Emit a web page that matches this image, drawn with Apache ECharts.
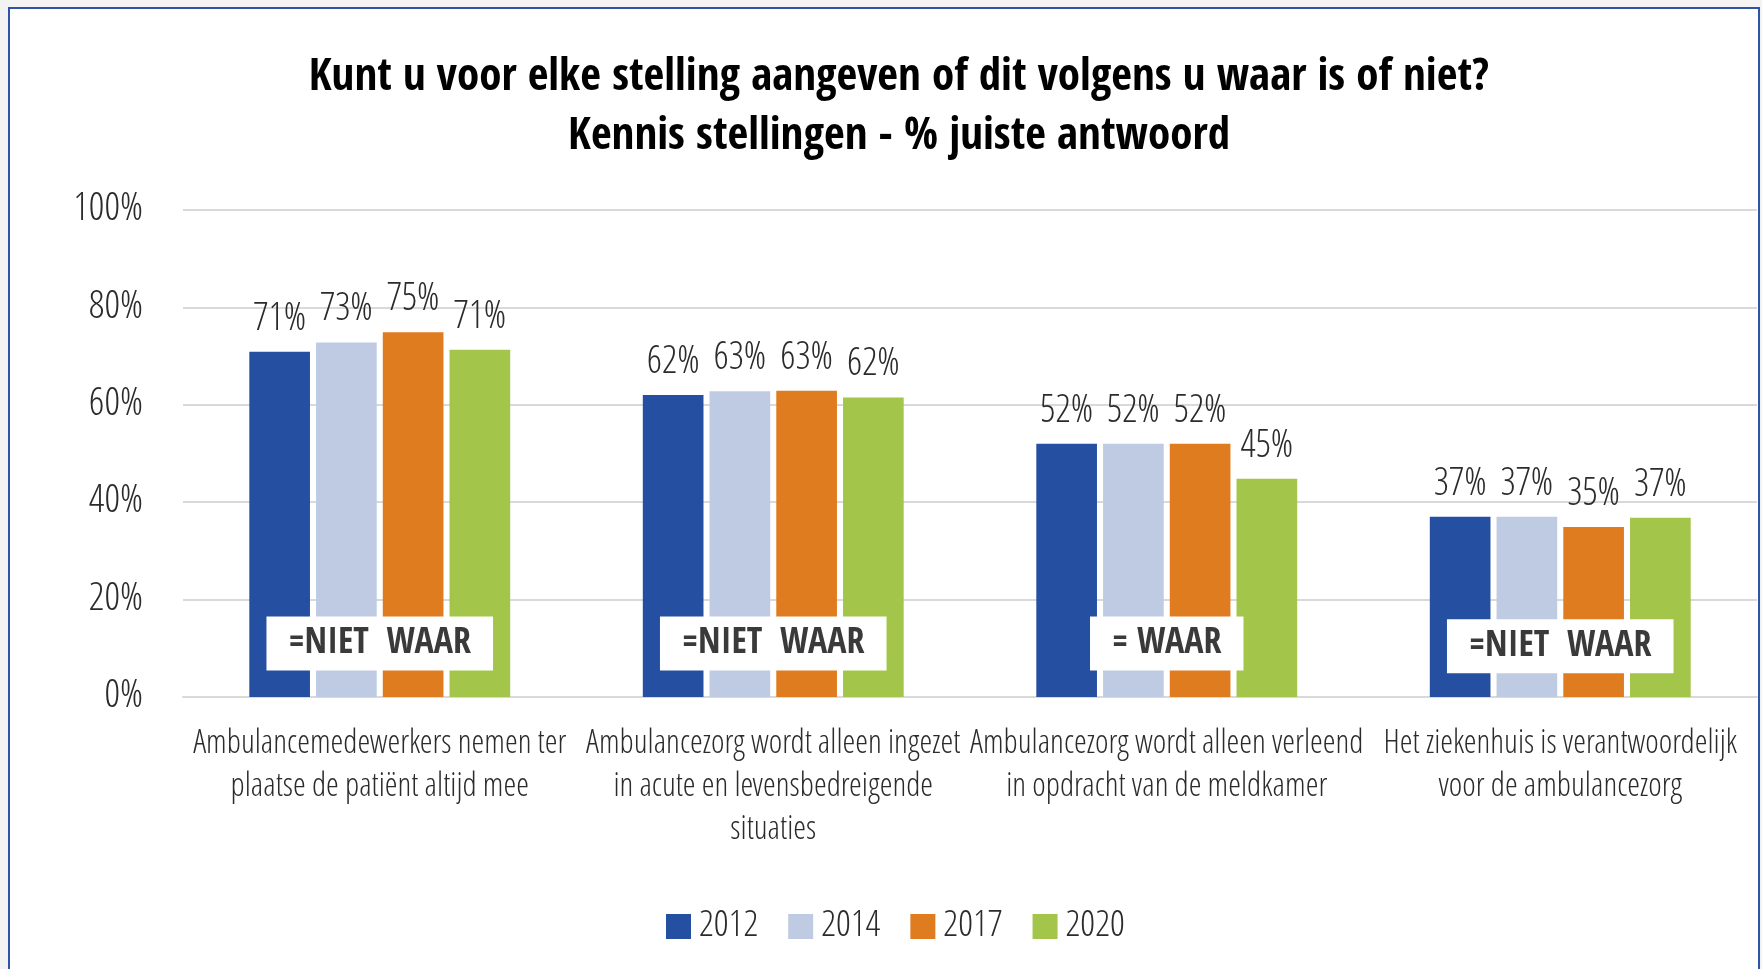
<!DOCTYPE html>
<html>
<head>
<meta charset="utf-8">
<script src="https://cdn.jsdelivr.net/npm/echarts@6/dist/echarts.min.js"></script>
<style>
  html, body { margin: 0; padding: 0; background: #f3f3f3; overflow: hidden; }
  #panel { position: absolute; left: 8px; top: 7px; width: 1748px; height: 1000px; background: #ffffff; border: 2px solid #2e54a6; }
  #chart { position: absolute; left: 0; top: 0; width: 1762px; height: 969px; }
</style>
</head>
<body>
<div id="panel"></div>
<div id="chart"></div>
<script>
// ---- data ----
const categories = [
  'Ambulancemedewerkers nemen ter\nplaatse de patiënt altijd mee',
  'Ambulancezorg wordt alleen ingezet\nin acute en levensbedreigende\nsituaties',
  'Ambulancezorg wordt alleen verleend\nin opdracht van de meldkamer',
  'Het ziekenhuis is verantwoordelijk\nvoor de ambulancezorg'
];
const seriesNames = ['2012', '2014', '2017', '2020'];
const values2012 = [70.9, 62.0, 52.0, 37.0];
const values2014 = [72.8, 62.8, 52.0, 37.0];
const values2017 = [74.9, 62.9, 52.0, 34.9];
const values2020 = [71.3, 61.5, 44.8, 36.8];
const annotationTexts = ['=NIET  WAAR', '=NIET  WAAR', '= WAAR', '=NIET  WAAR'];
const annotationLevel = [11, 11, 11, 10.4];
const yTicks = [0, 20, 40, 60, 80, 100];
const titleLines = ['Kunt u voor elke stelling aangeven of dit volgens u waar is of niet?', 'Kennis stellingen - % juiste antwoord'];

// ---- style ----
const colors = ['#254fa1', '#bfcbe3', '#df7c20', '#a2c54a'];
const LIGHT_FAMILY = '"Open Sans Condensed Light", "Open Sans", sans-serif';
const BOLD_FAMILY = '"Open Sans Condensed", "Open Sans", sans-serif';
const TXT = '#2b2b2b';

const chart = echarts.init(document.getElementById('chart'), null, { renderer: 'canvas' });
const allValues = [values2012, values2014, values2017, values2020];

const barSeries = seriesNames.map((name, i) => ({
  name: name,
  type: 'bar',
  data: allValues[i],
  barGap: '10%',
  barCategoryGap: '33.7%',
  itemStyle: { color: colors[i] },
  label: {
    show: true,
    position: 'top',
    distance: 13,
    formatter: p => Math.round(p.value) + '%',
    color: TXT,
    fontFamily: LIGHT_FAMILY,
    fontWeight: 300,
    fontSize: 38
  },
  z: 2
}));

const annotationSeries = {
  type: 'custom',
  name: 'annotation',
  data: annotationTexts.map((t, i) => [i, annotationLevel[i]]),
  z: 10,
  silent: true,
  renderItem: function (params, api) {
    const c = api.coord([api.value(0), api.value(1)]);
    return {
      type: 'text',
      x: c[0],
      y: c[1],
      style: {
        text: annotationTexts[params.dataIndex],
        align: 'center',
        verticalAlign: 'middle',
        fill: '#3a3a3a',
        fontFamily: BOLD_FAMILY,
        fontWeight: 'bold',
        fontSize: 36,
        backgroundColor: '#ffffff',
        padding: [9, 22, 9, 22]
      }
    };
  }
};

chart.setOption({
  animation: false,
  color: colors,
  title: {
    text: titleLines.join('\n'),
    left: 894,
    top: 44,
    textAlign: 'center',
    textStyle: {
      fontFamily: BOLD_FAMILY,
      fontWeight: 'bold',
      fontSize: 45,
      lineHeight: 59,
      color: '#000000'
    }
  },
  legend: {
    data: seriesNames,
    left: 661,
    top: 903,
    itemWidth: 25,
    itemHeight: 25,
    itemGap: 30,
    icon: 'rect',
    textStyle: { fontFamily: LIGHT_FAMILY, fontWeight: 300, fontSize: 37, color: TXT, padding: [0, 0, 0, 3] }
  },
  grid: { left: 183, right: 5, top: 210, bottom: 272, containLabel: false },
  xAxis: {
    type: 'category',
    data: categories,
    axisTick: { show: false },
    axisLine: { lineStyle: { color: '#d9d9d9', width: 2 } },
    axisLabel: {
      interval: 0,
      margin: 26,
      color: TXT,
      fontFamily: LIGHT_FAMILY,
      fontWeight: 300,
      fontSize: 32.5,
      lineHeight: 43
    }
  },
  yAxis: {
    type: 'value',
    min: yTicks[0],
    max: yTicks[yTicks.length - 1],
    interval: yTicks[1] - yTicks[0],
    axisLine: { show: false },
    axisTick: { show: false },
    splitLine: { lineStyle: { color: '#d9d9d9', width: 2 } },
    axisLabel: {
      formatter: '{value}%',
      margin: 40,
      color: TXT,
      fontFamily: LIGHT_FAMILY,
      fontWeight: 300,
      fontSize: 39
    }
  },
  series: barSeries.concat([annotationSeries])
});
</script>
</body>
</html>
